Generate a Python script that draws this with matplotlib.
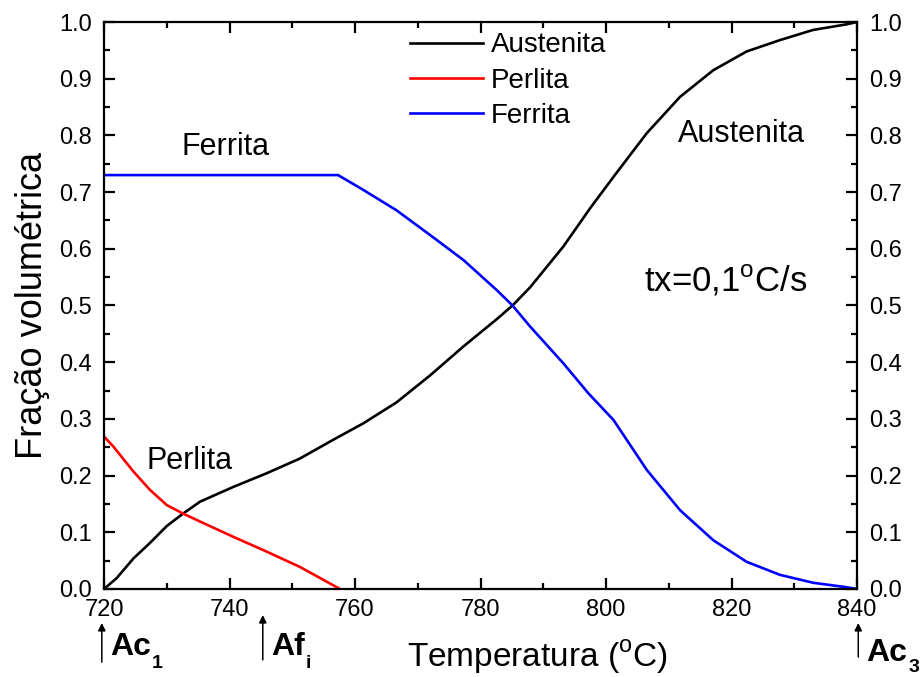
import matplotlib
matplotlib.use("Agg")
import matplotlib.pyplot as plt
from matplotlib.ticker import MultipleLocator
from matplotlib.transforms import offset_copy

plt.rcParams['font.family'] = ['Liberation Sans', 'DejaVu Sans']
plt.rcParams['mathtext.fontset'] = 'custom'
plt.rcParams['mathtext.rm'] = 'Liberation Sans'
plt.rcParams['mathtext.bf'] = 'Liberation Sans:bold'

# Data (temperature in °C, volume fraction)
aust_T = [720, 722, 724.7, 727.3, 730, 732.6, 735.3, 740.6, 745.9, 751.2, 756.5, 761.3,
          766.6, 772, 777.3, 782.6, 785.1, 787.9, 793.2, 797.5, 801.2, 806.5, 811.8,
          817.1, 822.4, 827.7, 833, 838.4, 840]
aust_f = [0.0, 0.019, 0.054, 0.081, 0.111, 0.133, 0.154, 0.180, 0.204, 0.230, 0.263, 0.292,
          0.329, 0.377, 0.428, 0.476, 0.500, 0.532, 0.604, 0.672, 0.727, 0.804, 0.868,
          0.915, 0.948, 0.968, 0.986, 0.996, 1.0]

perl_T = [720, 721.5, 724.7, 727.3, 730, 732.6, 735.3, 740.6, 745.9, 751.2, 757.6]
perl_f = [0.269, 0.251, 0.207, 0.175, 0.148, 0.133, 0.119, 0.092, 0.066, 0.039, 0.0]

ferr_T = [720, 757.3, 761.3, 766.6, 772, 777.3, 782.6, 785.1, 787.9, 793.2, 797.2,
          801.2, 806.5, 811.8, 817.1, 822.4, 827.7, 833, 838.4, 840]
ferr_f = [0.730, 0.730, 0.704, 0.668, 0.624, 0.580, 0.527, 0.500, 0.463, 0.398, 0.345,
          0.298, 0.210, 0.139, 0.086, 0.048, 0.025, 0.011, 0.003, 0.0]

# Critical temperatures marked below the axis
crit_T = [720, 745.3, 840]
crit_main = ['Ac', 'Af', 'Ac']
crit_sub = ['1', 'i', '3']

fig = plt.figure(figsize=(9.23, 6.77), dpi=100)
ax = fig.add_axes([0.1127, 0.13, 0.8158, 0.8375])

lw = 1.9
ax.plot(aust_T, aust_f, color='black', lw=lw, label='Austenita')
ax.plot(perl_T, perl_f, color='#ff0000', lw=lw, label='Perlita')
ax.plot(ferr_T, ferr_f, color='#0000ff', lw=lw, label='Ferrita')

ax.set_xlim(720, 840)
ax.set_ylim(0, 1.0)
ax.xaxis.set_major_locator(MultipleLocator(20))
ax.xaxis.set_minor_locator(MultipleLocator(10))
ax.yaxis.set_major_locator(MultipleLocator(0.1))
ax.yaxis.set_minor_locator(MultipleLocator(0.05))
ax.yaxis.set_major_formatter(matplotlib.ticker.FormatStrFormatter('%.1f'))

for s in ax.spines.values():
    s.set_linewidth(1.6)
ax.tick_params(which='both', direction='in', top=True, right=True, labelright=True,
               width=1.6)
ax.tick_params(which='major', length=8, labelsize=17)
ax.tick_params(axis='y', which='major', pad=9)
ax.tick_params(axis='x', which='major', pad=7)
ax.tick_params(which='minor', length=4.5)

ax.set_xlabel(r'Temperatura ($^\mathregular{o}$C)', fontsize=24)
ax.xaxis.set_label_coords(0.576, -0.1376)
ax.xaxis.label.set_va('baseline')
ax.set_ylabel('Fração volumétrica', fontsize=26, labelpad=6)

leg = ax.legend(loc='upper left', bbox_to_anchor=(0.381, 1.016), frameon=False,
                fontsize=20, handlelength=2.6, handletextpad=0.3, labelspacing=0.33,
                borderpad=0.2)

ax.text(739.4, 0.78, 'Ferrita', fontsize=22, ha='center', va='center')
ax.text(733.7, 0.226, 'Perlita', fontsize=22, ha='center', va='center')
ax.text(821.6, 0.802, 'Austenita', fontsize=22, ha='center', va='center')
ax.text(819.0, 0.543, r'tx=0,1$^\mathregular{o}$C/s', fontsize=25, ha='center', va='center')

trans = ax.get_xaxis_transform()
arrow_tip = [-0.060, -0.046, -0.060]
arrow_tail = [-0.129, -0.125, -0.120]
base = [-0.1164, -0.1164, -0.1270]
sub_drop = [-13, -13, -11]
xshift = [-0.35, 0.0, 0.2]
fig.canvas.draw()
renderer = fig.canvas.get_renderer()
for i, T in enumerate(crit_T):
    xt = T + xshift[i]
    ax.annotate('', xy=(xt, arrow_tip[i]), xytext=(xt, arrow_tail[i]), xycoords=trans,
                textcoords=trans, annotation_clip=False,
                arrowprops=dict(arrowstyle='-|>', color='black', lw=1.1,
                                mutation_scale=11, shrinkA=0, shrinkB=0))
    tr = offset_copy(trans, fig=fig, x=8, y=0, units='dots')
    t = ax.text(xt, base[i], crit_main[i], transform=tr, fontsize=23,
                fontweight='bold', ha='left', va='baseline', clip_on=False)
    bb = t.get_window_extent(renderer)
    tr2 = offset_copy(trans, fig=fig, x=8 + bb.width + 1, y=sub_drop[i], units='dots')
    ax.text(xt, base[i], crit_sub[i], transform=tr2, fontsize=14,
            fontweight='bold', ha='left', va='baseline', clip_on=False)

fig.savefig('out.png', dpi=100)
